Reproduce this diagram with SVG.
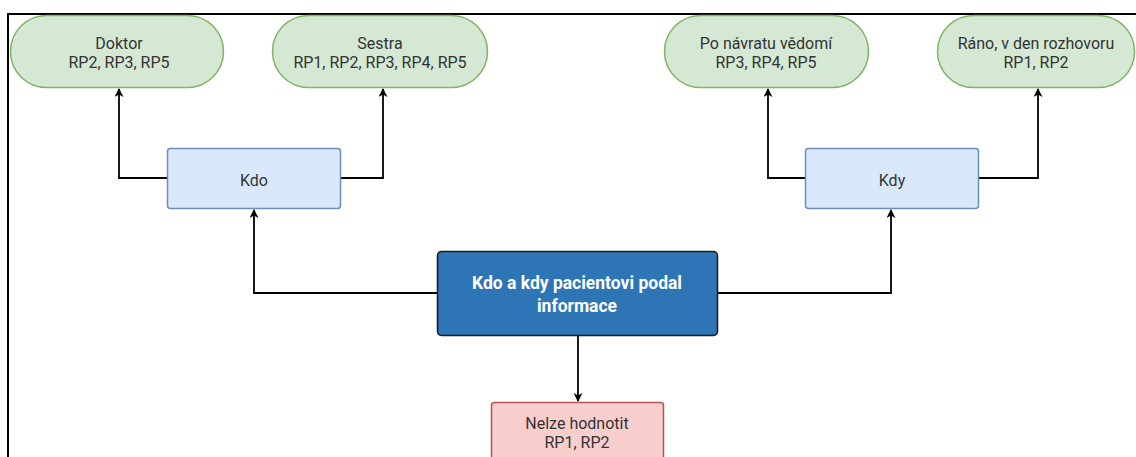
<svg xmlns="http://www.w3.org/2000/svg" width="1136" height="457" viewBox="0 0 1136 457">
<defs>
<marker id="arr" viewBox="0 0 10 10" refX="9" refY="5" markerWidth="9" markerHeight="9" markerUnits="userSpaceOnUse" orient="auto">
<path d="M0,0 L10,5 L0,10 L3,5 Z" fill="#000"/>
</marker>
</defs>
<style>
.green{fill:#d5e8d4;stroke:#82b366;stroke-width:1.5}
.blue{fill:#dae8fc;stroke:#6c8ebf;stroke-width:1.5}
.red{fill:#f8cecc;stroke:#b85450;stroke-width:1.5}
.main{fill:#2e75b6;stroke:#1a1a1a;stroke-width:1.5}
.t{font-family:Roboto,"Liberation Sans",sans-serif;font-size:16px;fill:#333;text-anchor:middle}
.tm{font-family:Roboto,"Liberation Sans",sans-serif;font-size:17.5px;font-weight:bold;fill:#fff;text-anchor:middle}
.c{fill:none;stroke:#000;stroke-width:1.8;marker-end:url(#arr)}
</style>
<rect width="1136" height="457" fill="#fff"/>
<path d="M8,457 L8,14 L1136,14" fill="none" stroke="#000" stroke-width="2"/>
<g id="connectors">
<path class="c" d="M167,178 L119,178 L119,89"/>
<path class="c" d="M341,178 L383,178 L383,89"/>
<path class="c" d="M805,178 L768,178 L768,89"/>
<path class="c" d="M979,178 L1038,178 L1038,89"/>
<path class="c" d="M437,293 L254,293 L254,210"/>
<path class="c" d="M718,293 L891,293 L891,210"/>
<path class="c" d="M578,336 L578,401"/>
</g>
<g id="doktor">
<rect class="green" x="10.5" y="15.5" width="213" height="72" rx="36" ry="36"/>
<text class="t" x="119" y="48.5">Doktor</text>
<text class="t" x="119" y="67.5">RP2, RP3, RP5</text>
</g>
<g id="sestra">
<rect class="green" x="272.5" y="15.5" width="215" height="72" rx="36" ry="36"/>
<text class="t" x="380" y="48.5">Sestra</text>
<text class="t" x="380" y="67.5">RP1, RP2, RP3, RP4, RP5</text>
</g>
<g id="po-navratu">
<rect class="green" x="664.5" y="15.5" width="204" height="72" rx="36" ry="36"/>
<text class="t" x="766" y="48.5">Po návratu vědomí</text>
<text class="t" x="766" y="67.5">RP3, RP4, RP5</text>
</g>
<g id="rano">
<rect class="green" x="937.5" y="15.5" width="197" height="72" rx="36" ry="36"/>
<text class="t" x="1036" y="48.5">Ráno, v den rozhovoru</text>
<text class="t" x="1036" y="67.5">RP1, RP2</text>
</g>
<g id="kdo">
<rect class="blue" x="167.5" y="148.5" width="173" height="60" rx="3" ry="3"/>
<text class="t" x="254" y="185.5">Kdo</text>
</g>
<g id="kdy">
<rect class="blue" x="805.5" y="148.5" width="173" height="60" rx="3" ry="3"/>
<text class="t" x="892" y="185.5">Kdy</text>
</g>
<g id="main">
<rect class="main" x="437.5" y="251.5" width="280" height="84" rx="4" ry="4"/>
<text class="tm" x="577" y="289">Kdo a kdy pacientovi podal</text>
<text class="tm" x="577" y="311.5">informace</text>
</g>
<g id="nelze">
<rect class="red" x="491.5" y="402.5" width="172" height="70" rx="3" ry="3"/>
<text class="t" x="577" y="429">Nelze hodnotit</text>
<text class="t" x="577" y="448">RP1, RP2</text>
</g>
</svg>
